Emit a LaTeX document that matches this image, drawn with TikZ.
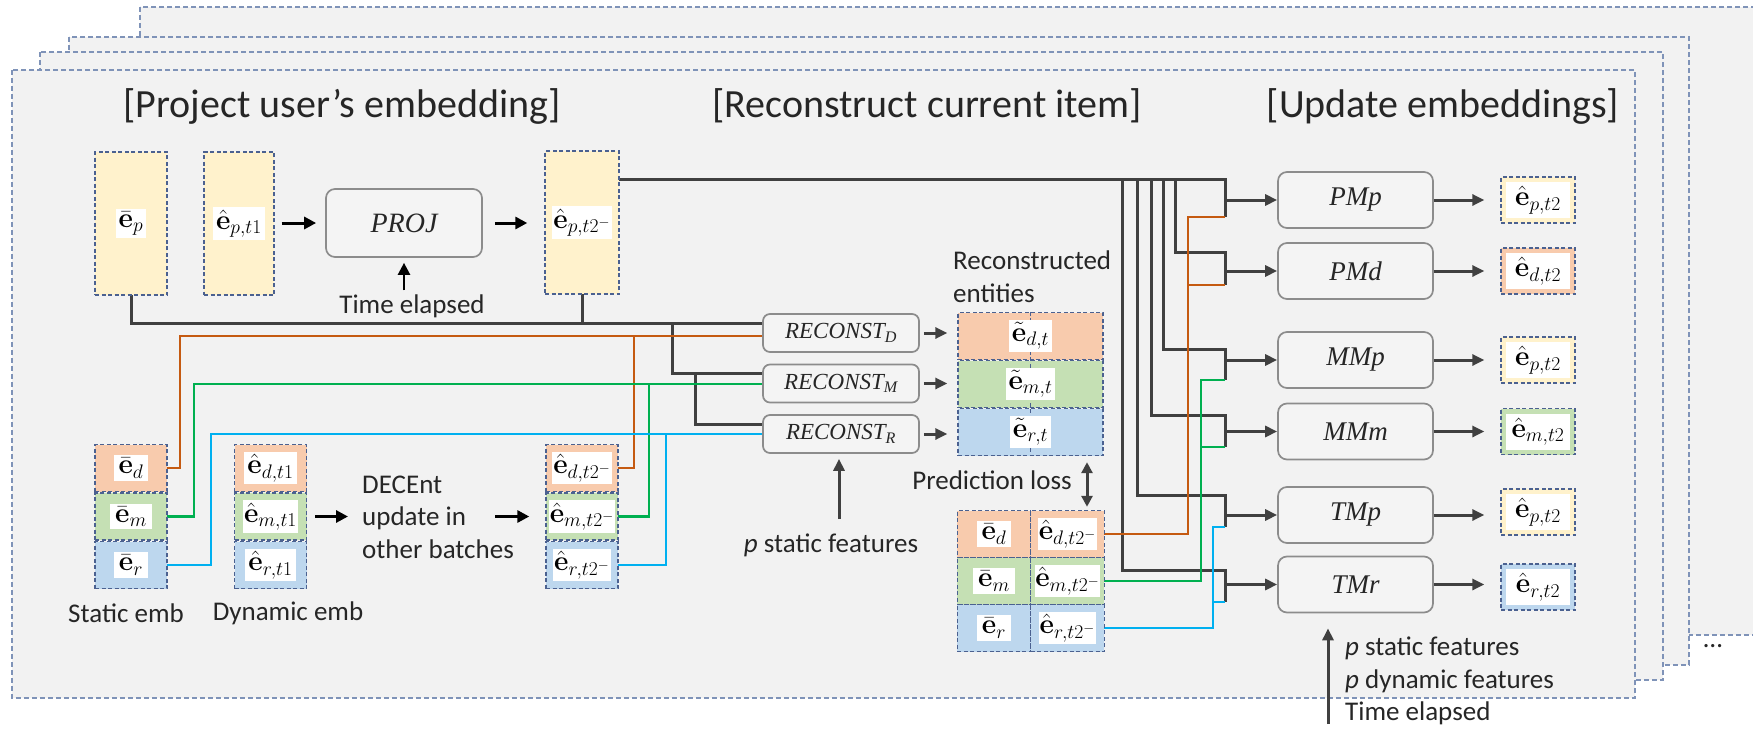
\RequirePackage{fix-cm}
\documentclass[tikz,border=0pt]{standalone}
\usepackage[no-math]{fontspec}
\setmainfont{Carlito}
\newfontfamily\modfont{Liberation Serif}
\usetikzlibrary{arrows.meta}
\definecolor{frfill}{HTML}{F2F2F2}
\definecolor{frdraw}{HTML}{7F93B8}
\definecolor{boxdraw}{HTML}{4B6190}
\definecolor{cy}{HTML}{FFF2CC}
\definecolor{co}{HTML}{F8CBAD}
\definecolor{cg}{HTML}{C5E0B4}
\definecolor{cb}{HTML}{BDD7EE}
\definecolor{lineg}{HTML}{404040}
\definecolor{lineo}{HTML}{C55A11}
\definecolor{linegr}{HTML}{00B050}
\definecolor{lineb}{HTML}{00B0F0}
\definecolor{moddraw}{HTML}{8C8C8C}
\definecolor{modfill}{HTML}{F4F4F4}
\definecolor{txt}{HTML}{262626}
\newcommand\myT{\fontsize{27pt}{32.5pt}\selectfont}
\newcommand\myTitle{\fontsize{40pt}{48pt}\selectfont}
\newcommand\myMath{\fontsize{28pt}{30pt}\selectfont}
\newcommand\myMod{\fontsize{27pt}{30pt}\selectfont\modfont\itshape}
\newcommand\myRec{\fontsize{23pt}{26pt}\selectfont\modfont\itshape}
\tikzset{
 frm/.style={fill=frfill, draw=frdraw, line width=1.2pt, dash pattern=on 5pt off 3pt},
 cellb/.style={draw=boxdraw, line width=1.4pt, dash pattern=on 4pt off 2.5pt, inner sep=0pt},
 tallbox/.style={cellb, fill=cy, minimum width=72pt, minimum height=143pt},
 stk/.style={cellb, minimum width=72pt, minimum height=47pt},
 wide/.style={cellb, minimum width=145pt, minimum height=47pt},
 half/.style={cellb, minimum width=73.5pt, minimum height=47pt},
 outb/.style={cellb, minimum width=74pt, minimum height=46pt},
 lab/.style={fill=white, inner xsep=3pt, inner ysep=2.5pt, font=\myMath, text=black},
 outlab/.style={lab, minimum width=64pt, minimum height=36pt},
 mod/.style={draw=moddraw, fill=modfill, rounded corners=9pt, line width=1.7pt, minimum width=155pt, minimum height=56pt, font=\myMod, text=txt},
 rec/.style={mod, minimum width=156pt, minimum height=38pt, rounded corners=7pt, font=\myRec},
 txtn/.style={font=\myT, text=txt, inner sep=0pt},
 ttl/.style={font=\myTitle, text=txt, inner sep=0pt, anchor=base},
 gl/.style={draw=lineg, line width=3pt},
 ol/.style={draw=lineo, line width=2.8pt},
 gnl/.style={draw=linegr, line width=2.8pt},
 bll/.style={draw=lineb, line width=2.8pt},
 garr/.style={gl, -{Triangle[length=12pt,width=11pt]}},
 karr/.style={draw=black, line width=3pt, -{Triangle[length=12pt,width=12pt]}},
}
\begin{document}
\begin{tikzpicture}[x=1pt,y=-1pt]
\useasboundingbox (0,0) rectangle (1753,728);
\clip (0,0) rectangle (1753,728);
\fill[white] (0,0) rectangle (1753,728);
% stacked frames
\draw[frm] (140,7) rectangle (1800,635);
\draw[frm] (69,37) rectangle (1689,665);
\draw[frm] (40,52) rectangle (1663,680);
\draw[frm] (12,70) rectangle (1635,698);
\node[txtn] (dots) at (1713,646) {\ldots};
% titles
\node[ttl] (t1) at (342,117) {[Project user’s embedding]};
\node[ttl] (t2) at (927,117) {[Reconstruct current item]};
\node[ttl] (t3) at (1443,117) {[Update embeddings]};

% ---------- connectors (drawn first) ----------
\draw[gl] (131,295) |- (763,323);
\draw[gl] (582,294) -- (582,323);
\draw[gl] (672,323) |- (763,373.5);
\draw[gl] (695,373.5) |- (763,424);
\draw[ol] (167,468) -| (180,336) -- (763,336);
\draw[ol] (618,468) -| (634,336);
\draw[gnl] (167,516.5) -| (194,384) -- (763,384);
\draw[gnl] (618,516.5) -| (649,384);
\draw[bll] (167,565) -| (211,434) -- (763,434);
\draw[bll] (618,565) -| (666,434);

% top bundle
\draw[gl] (619,179) -- (1225,179) -- (1225,217);
\draw[gl] (1175,179) |- (1225,252) -- (1225,285);
\draw[gl] (1163,179) |- (1225,349) -- (1225,380);
\draw[gl] (1151,179) |- (1225,415) -- (1225,447);
\draw[gl] (1137,179) |- (1225,495) -- (1225,527);
\draw[gl] (1122,179) |- (1225,570) -- (1225,602);
\draw[ol] (1104,534) -| (1188,217) -- (1225,217);
\draw[ol] (1188,285) -- (1225,285);
\draw[gnl] (1104,581) -| (1201,380) -- (1225,380);
\draw[gnl] (1201,447) -- (1225,447);
\draw[bll] (1104,628) -| (1213,527) -- (1225,527);
\draw[bll] (1213,602) -- (1225,602);

% ---------- project user's embedding ----------
\node[tallbox] (ep) at (131,223.5) {};
\node[tallbox, minimum width=70pt] (ept1) at (239,223.5) {};
\node[tallbox, minimum width=74pt] (ept2) at (582,222.5) {};
\node[lab] (lep) at (ep) {$\bar{\mathbf{e}}_p$};
\node[lab] (lept1) at (ept1) {$\hat{\mathbf{e}}_{p,t1}$};
\node[lab, inner xsep=1pt] (lept2) at (ept2) {$\hat{\mathbf{e}}_{p,t2^-}$};
\node[mod, minimum width=156pt, minimum height=68pt, font=\fontsize{28pt}{30pt}\selectfont\modfont\itshape] (proj) at (404,223) {PROJ};
\node[txtn] (te) at (412,306) {Time elapsed};
\draw[karr, shorten <=7pt, shorten >=9pt] (ept1.east |- proj.west) -- (proj.west);
\draw[karr, shorten <=12pt, shorten >=17pt] (proj.east) -- (proj.east -| ept2.west);
\draw[karr, line width=2.4pt, shorten <=4pt, shorten >=5pt] (proj.south |- te.north) -- (proj.south);

% ---------- static / dynamic stacks ----------
\node[stk, fill=co] (sd) at (131,468) {};
\node[stk, fill=cg] (sm) at (131,516.5) {};
\node[stk, fill=cb] (sr) at (131,565) {};
\node[lab, inner xsep=5pt] (lsd) at (sd) {$\bar{\mathbf{e}}_d$};
\node[lab, inner xsep=5pt] (lsm) at (sm) {$\bar{\mathbf{e}}_m$};
\node[lab, inner xsep=5pt] (lsr) at (sr) {$\bar{\mathbf{e}}_r$};
\node[stk, fill=co] (d1d) at (270.5,468) {};
\node[stk, fill=cg] (d1m) at (270.5,516.5) {};
\node[stk, fill=cb] (d1r) at (270.5,565) {};
\node[lab] (ld1d) at (d1d) {$\hat{\mathbf{e}}_{d,t1}$};
\node[lab, inner xsep=1pt] (ld1m) at (d1m) {$\hat{\mathbf{e}}_{m,t1}$};
\node[lab] (ld1r) at (d1r) {$\hat{\mathbf{e}}_{r,t1}$};
\node[stk, fill=co] (d2d) at (582,468) {};
\node[stk, fill=cg] (d2m) at (582,516.5) {};
\node[stk, fill=cb] (d2r) at (582,565) {};
\node[lab, inner xsep=1pt] (ld2d) at (d2d) {$\hat{\mathbf{e}}_{d,t2^-}$};
\node[lab, inner xsep=0.5pt] (ld2m) at (d2m) {$\hat{\mathbf{e}}_{m,t2^-}$};
\node[lab, inner xsep=1pt] (ld2r) at (d2r) {$\hat{\mathbf{e}}_{r,t2^-}$};
\node[txtn] (stat) at (126,613) {Static emb};
\node[txtn] (dyn) at (288,613) {Dynamic emb};
\node[txtn, align=left, anchor=west] (dec) at (362,517) {DECEnt\\update in\\other batches};
\coordinate (dA) at (495,516.5);
\draw[karr, shorten <=8pt, shorten >=14pt] (d1m.east) -- (d1m.east -| dec.west);
\draw[karr, shorten >=16pt] (dA) -- (d2m.west);

% ---------- reconstruct ----------
\node[rec] (rD) at (841,333) {RECONST\textsubscript{D}};
\node[rec] (rM) at (841,383.5) {RECONST\textsubscript{M}};
\node[rec] (rR) at (841,434) {RECONST\textsubscript{R}};
\node[wide, fill=co] (cd) at (1030.5,336) {};
\node[wide, fill=cg] (cm) at (1030.5,384) {};
\node[wide, fill=cb] (cr) at (1030.5,432) {};
\draw[cellb] (cd.north) -- (cr.south);
\node[lab] (lcd) at (cd) {$\tilde{\mathbf{e}}_{d,t}$};
\node[lab] (lcm) at (cm) {$\tilde{\mathbf{e}}_{m,t}$};
\node[lab] (lcr) at (cr) {$\tilde{\mathbf{e}}_{r,t}$};
\node[txtn, align=left, anchor=west] (recn) at (953,276.5) {Reconstructed\\entities};
\draw[garr, shorten <=4pt, shorten >=10pt] (rD.east) -- (rD.east -| cd.west);
\draw[garr, shorten <=4pt, shorten >=10pt] (rM.east) -- (rM.east -| cm.west);
\draw[garr, shorten <=4pt, shorten >=10pt] (rR.east) -- (rR.east -| cr.west);
\node[txtn] (psf) at (831,545) {\textit{p} static features};
\coordinate (psa) at (839,519);
\draw[garr, shorten >=5pt] (psa) -- (psa |- rR.south);

% prediction block
\node[half, fill=co] (bdl) at (994,534) {};
\node[half, fill=co] (bdr) at (1067.5,534) {};
\node[half, fill=cg] (bml) at (994,581) {};
\node[half, fill=cg] (bmr) at (1067.5,581) {};
\node[half, fill=cb] (brl) at (994,628) {};
\node[half, fill=cb] (brr) at (1067.5,628) {};
\node[lab, inner xsep=5pt] (lbdl) at (bdl) {$\bar{\mathbf{e}}_d$};
\node[lab, inner xsep=5pt] (lbml) at (bml) {$\bar{\mathbf{e}}_m$};
\node[lab, inner xsep=5pt] (lbrl) at (brl) {$\bar{\mathbf{e}}_r$};
\node[lab, inner xsep=1pt] (lbdr) at (bdr) {$\hat{\mathbf{e}}_{d,t2^-}$};
\node[lab, inner xsep=0.5pt] (lbmr) at (bmr) {$\hat{\mathbf{e}}_{m,t2^-}$};
\node[lab, inner xsep=1pt] (lbrr) at (brr) {$\hat{\mathbf{e}}_{r,t2^-}$};
\node[txtn] (pl) at (992,480) {Prediction loss};
\coordinate (plx) at (1087,480);
\draw[gl, {Triangle[length=11pt,width=11pt]}-{Triangle[length=11pt,width=11pt]}, shorten <=6pt, shorten >=3pt] (plx |- cr.south) -- (plx |- bdr.north);

% ---------- update modules ----------
\node[mod] (PMp) at (1355.5,200) {PMp};
\node[mod] (PMd) at (1355.5,271) {PMd};
\node[mod] (MMp) at (1355.5,360) {MMp};
\node[mod] (MMm) at (1355.5,431.5) {MMm};
\node[mod] (TMp) at (1355.5,515) {TMp};
\node[mod] (TMr) at (1355.5,584.5) {TMr};
\coordinate (bx) at (1225,0);
\foreach \m in {PMp,PMd,MMp,MMm,TMp,TMr}{
  \draw[garr] (bx |- \m.west) -- (\m.west);
}
\node[outb, fill=cy] (o1) at (1538,200) {};
\node[outb, fill=co] (o2) at (1538,271) {};
\node[outb, fill=cy] (o3) at (1538,360) {};
\node[outb, fill=cg] (o4) at (1538,431.5) {};
\node[outb, fill=cy] (o5) at (1538,512) {};
\node[outb, fill=cb] (o6) at (1538,587) {};
\node[outlab] (lo1) at (o1) {$\hat{\mathbf{e}}_{p,t2}$};
\node[outlab] (lo2) at (o2) {$\hat{\mathbf{e}}_{d,t2}$};
\node[outlab] (lo3) at (o3) {$\hat{\mathbf{e}}_{p,t2}$};
\node[outlab] (lo4) at (o4) {$\hat{\mathbf{e}}_{m,t2}$};
\node[outlab] (lo5) at (o5) {$\hat{\mathbf{e}}_{p,t2}$};
\node[outlab] (lo6) at (o6) {$\hat{\mathbf{e}}_{r,t2}$};
\draw[garr, shorten >=16pt] (PMp.east) -- (PMp.east -| o1.west);
\draw[garr, shorten >=16pt] (PMd.east) -- (PMd.east -| o2.west);
\draw[garr, shorten >=16pt] (MMp.east) -- (MMp.east -| o3.west);
\draw[garr, shorten >=16pt] (MMm.east) -- (MMm.east -| o4.west);
\draw[garr, shorten >=16pt] (TMp.east) -- (TMp.east -| o5.west);
\draw[garr, shorten >=16pt] (TMr.east) -- (TMr.east -| o6.west);
\node[txtn, align=left, anchor=west] (feat) at (1345,681) {\textit{p} static features\\\textit{p} dynamic features\\Time elapsed};
\coordinate (fa) at (1328,724);
\draw[garr, shorten >=15pt] (fa) -- (fa |- TMr.south);
\end{tikzpicture}
\end{document}
